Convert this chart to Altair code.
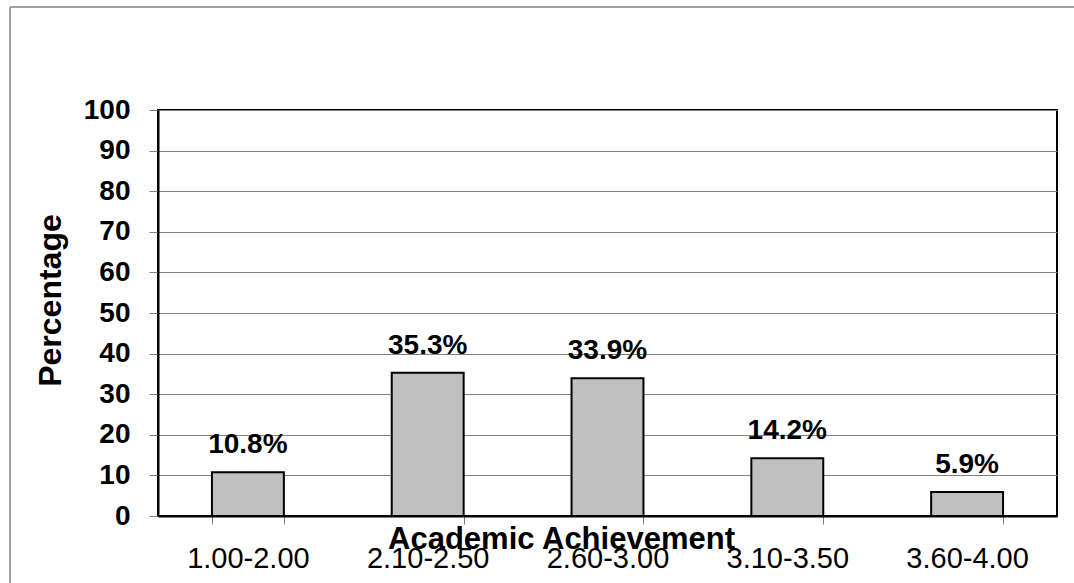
import altair as alt
import pandas as pd

# Share of students in each academic-achievement (GPA) band
categories = ["1.00-2.00", "2.10-2.50", "2.60-3.00", "3.10-3.50", "3.60-4.00"]
percentages = [10.8, 35.3, 33.9, 14.2, 5.9]
y_ticks = [0, 10, 20, 30, 40, 50, 60, 70, 80, 90, 100]

df = pd.DataFrame({"band": categories, "pct": percentages})
df["label"] = [f"{v:.1f}%" for v in percentages]

FONT = "Liberation Sans"

x_enc = alt.X(
    "band:N",
    sort=categories,
    scale=alt.Scale(paddingInner=0.6, paddingOuter=0.3),
    axis=alt.Axis(
        title="Academic Achievement",
        titleFont=FONT,
        titleFontSize=31,
        titleFontWeight="bold",
        titleColor="black",
        titleX=403,
        titleY=32,
        titleAlign="center",
        titleBaseline="alphabetic",
        labelFont=FONT,
        labelFontSize=29,
        labelFontWeight="normal",
        labelColor="black",
        labelAngle=0,
        labelPadding=20,
        tickBand="extent",
        tickSize=8,
        tickColor="#808080",
        domainColor="black",
        domainWidth=2,
        grid=False,
    ),
)

y_enc = alt.Y(
    "pct:Q",
    scale=alt.Scale(domain=[0, 100], nice=False),
    axis=alt.Axis(
        title="Percentage",
        values=y_ticks,
        titleFont=FONT,
        titleFontSize=32,
        titleFontWeight="bold",
        titleColor="black",
        titleAngle=-90,
        titleX=-98,
        titleY=190,
        titleAlign="center",
        titleBaseline="alphabetic",
        labelFont=FONT,
        labelFontSize=28,
        labelFontWeight="bold",
        labelColor="black",
        labelPadding=19,
        tickSize=9,
        tickColor="#808080",
        domainColor="black",
        domainWidth=2,
        grid=True,
        gridColor="#808080",
        gridWidth=1,
    ),
)

bars = alt.Chart(df).mark_bar(
    color="#C0C0C0", stroke="black", strokeWidth=2
).encode(x=x_enc, y=y_enc)

labels = alt.Chart(df).mark_text(
    font=FONT, fontSize=28, fontWeight="bold", color="black",
    baseline="alphabetic", dy=-19
).encode(x=alt.X("band:N", sort=categories), y="pct:Q", text="label:N")

# Thin grey frame lines along the top and left of the figure
frame_top = alt.Chart(df).mark_rule(color="#A0A0A0", strokeWidth=2).encode(
    x=alt.value(-148), x2=alt.value(930), y=alt.value(-103)
)
frame_left = alt.Chart(df).mark_rule(color="#A0A0A0", strokeWidth=2).encode(
    x=alt.value(-148), y=alt.value(-103), y2=alt.value(480)
)

chart = (
    alt.layer(bars, labels, frame_top, frame_left)
    .properties(
        width=899,
        height=406,
        autosize=alt.AutoSizeParams(type="none"),
        padding={"left": 158, "top": 110, "right": 17, "bottom": 67},
        background="white",
    )
    .configure_view(stroke="black", strokeWidth=2)
)

chart.save("out.html", embed_options={"renderer": "svg", "actions": False})
